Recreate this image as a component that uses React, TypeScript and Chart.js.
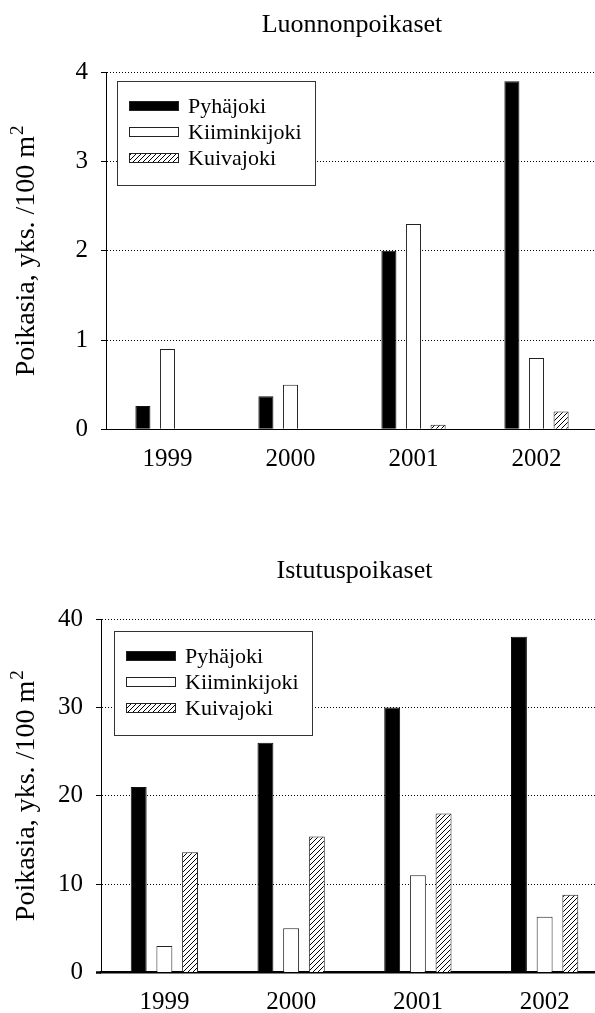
import React, { useEffect, useRef } from 'react';
import { Chart, registerables } from 'chart.js';

Chart.register(...registerables);

const years = ['1999', '2000', '2001', '2002'];
const seriesNames = ['Pyhäjoki', 'Kiiminkijoki', 'Kuivajoki'];

const wildPyha = [0.26, 0.37, 2.0, 3.9];
const wildKiim = [0.9, 0.5, 2.3, 0.8];
const wildKuiva = [0, 0, 0.05, 0.2];

const stockPyha = [21, 26, 30, 38];
const stockKiim = [3, 5, 11, 6.3];
const stockKuiva = [13.6, 15.4, 18, 8.8];

const topTitle = 'Luonnonpoikaset';
const bottomTitle = 'Istutuspoikaset';
const yTitleMain = 'Poikasia, yks. /100 m';
const yTitleSup = '2';

const FONT = '"Liberation Serif", "Times New Roman", serif';

function makeHatch(): CanvasPattern {
  const s = 5;
  const c = document.createElement('canvas');
  c.width = s;
  c.height = s;
  const g = c.getContext('2d')!;
  g.fillStyle = '#fff';
  g.fillRect(0, 0, s, s);
  g.strokeStyle = '#000';
  g.lineWidth = 1;
  g.beginPath();
  g.moveTo(0, s);
  g.lineTo(s, 0);
  g.moveTo(-1, 1);
  g.lineTo(1, -1);
  g.moveTo(s - 1, s + 1);
  g.lineTo(s + 1, s - 1);
  g.stroke();
  return g.createPattern(c, 'repeat')!;
}

const boxLegend = {
  id: 'boxLegend',
  afterDraw(chart: any, _args: any, opts: any) {
    const { ctx, chartArea } = chart;
    const x0 = Math.round(chartArea.left + opts.dx);
    const y0 = Math.round(chartArea.top + opts.dy);
    ctx.save();
    ctx.fillStyle = '#fff';
    ctx.fillRect(x0, y0, opts.w, opts.h);
    ctx.strokeStyle = '#333';
    ctx.lineWidth = 1;
    ctx.strokeRect(x0 + 0.5, y0 + 0.5, opts.w, opts.h);
    chart.data.datasets.forEach((ds: any, i: number) => {
      const cy = Math.round(y0 + opts.firstRow + i * opts.rowGap);
      const sx = x0 + 12;
      ctx.fillStyle = ds.backgroundColor;
      ctx.fillRect(sx, cy - 5, 50, 10);
      ctx.strokeStyle = '#222';
      ctx.strokeRect(sx + 0.5, cy - 5 + 0.5, 49, 9);
      ctx.fillStyle = '#000';
      ctx.font = `22px ${FONT}`;
      ctx.textBaseline = 'middle';
      ctx.textAlign = 'left';
      ctx.fillText(ds.label, sx + 59, cy + 1);
    });
    ctx.restore();
  },
};

const yTitlePlugin = {
  id: 'yTitleSup',
  afterDraw(chart: any, _args: any, opts: any) {
    const { ctx, chartArea } = chart;
    const cy = (chartArea.top + chartArea.bottom) / 2;
    ctx.save();
    ctx.fillStyle = '#000';
    ctx.textBaseline = 'alphabetic';
    ctx.textAlign = 'left';
    ctx.font = `${opts.size}px ${FONT}`;
    const wMain = ctx.measureText(yTitleMain).width;
    ctx.font = `${opts.supSize}px ${FONT}`;
    const wSup = ctx.measureText(yTitleSup).width;
    const total = wMain + wSup + 1;
    ctx.translate(opts.baseX, cy);
    ctx.rotate(-Math.PI / 2);
    ctx.font = `${opts.size}px ${FONT}`;
    ctx.fillText(yTitleMain, -total / 2, 0);
    ctx.font = `${opts.supSize}px ${FONT}`;
    ctx.fillText(yTitleSup, -total / 2 + wMain + 1, -opts.raise);
    ctx.restore();
  },
};

interface Spec {
  title: string;
  data: number[][];
  max: number;
  step: number;
  width: number;
  height: number;
  axisX: number;
  areaTop: number;
  areaBottom: number;
  titleTop: number;
  catPct: number;
  barPct: number;
  baseWidth: number;
  legendDx: number;
  legendDy: number;
}

function ChartBox({ spec, top }: { spec: Spec; top: number }) {
  const ref = useRef<HTMLCanvasElement | null>(null);
  useEffect(() => {
    const canvas = ref.current!;
    const hatch = makeHatch();
    const fills = ['#000', '#fff', hatch];
    const titleLine = 26 * 1.2;
    const titlePadTop = spec.titleTop;
    const titlePadBottom = spec.areaTop - titlePadTop - titleLine;
    const xHeight = 40;
    const chart = new Chart(canvas, {
      type: 'bar',
      data: {
        labels: years,
        datasets: spec.data.map((vals, i) => ({
          label: seriesNames[i],
          data: vals,
          backgroundColor: fills[i] as any,
          borderColor: i === 0 ? '#111' : '#222',
          borderWidth: 1,
          categoryPercentage: spec.catPct,
          barPercentage: spec.barPct,
        })),
      },
      options: {
        responsive: false,
        animation: false,
        layout: {
          padding: { left: 0, right: 0, top: 0, bottom: spec.height - spec.areaBottom - xHeight },
        },
        plugins: {
          legend: { display: false },
          tooltip: { enabled: false },
          title: {
            display: true,
            text: spec.title,
            fullSize: false,
            color: '#000',
            font: { family: FONT, size: 26, weight: 'normal' },
            padding: { top: titlePadTop, bottom: titlePadBottom },
          },
          boxLegend: {
            dx: spec.legendDx,
            dy: spec.legendDy,
            w: 198,
            h: 104,
            firstRow: 25,
            rowGap: 26,
          },
          yTitleSup: {
            size: 28,
            supSize: 19,
            raise: 11,
            baseX: 34,
          },
        } as any,
        scales: {
          x: {
            offset: true,
            grid: { display: false, drawTicks: false },
            border: { display: true, color: '#000', width: spec.baseWidth },
            ticks: {
              color: '#000',
              padding: 15,
              font: { family: FONT, size: 25 },
            },
            afterFit: (s: any) => {
              s.height = xHeight;
            },
          },
          y: {
            min: 0,
            max: spec.max,
            grid: {
              color: '#000',
              lineWidth: 1,
              tickLength: 5,
              tickColor: '#000',
              tickWidth: (c: any) => (c.tick && c.tick.value === 0 ? spec.baseWidth : 1),
              tickBorderDash: [],
            },
            border: { display: true, color: '#000', width: 1, dash: [1, 2] },
            ticks: {
              stepSize: spec.step,
              color: '#000',
              padding: 13,
              font: { family: FONT, size: 25 },
            },
            title: { display: false },
            afterFit: (s: any) => {
              s.width = spec.axisX;
            },
          },
        },
      },
      plugins: [boxLegend, yTitlePlugin],
    });
    return () => chart.destroy();
  }, [spec]);
  return (
    <canvas
      ref={ref}
      width={spec.width}
      height={spec.height}
      style={{ position: 'absolute', left: 0, top, width: spec.width, height: spec.height }}
    />
  );
}

const topSpec: Spec = {
  title: topTitle,
  data: [wildPyha, wildKiim, wildKuiva],
  max: 4,
  step: 1,
  width: 598,
  height: 500,
  axisX: 106,
  areaTop: 72.3,
  areaBottom: 429.3,
  titleTop: 10,
  catPct: 0.6,
  barPct: 0.612,
  baseWidth: 1,
  legendDx: 11,
  legendDy: 9,
};

const bottomSpec: Spec = {
  title: bottomTitle,
  data: [stockPyha, stockKiim, stockKuiva],
  max: 40,
  step: 10,
  width: 608,
  height: 513,
  axisX: 101,
  areaTop: 119,
  areaBottom: 472.5,
  titleTop: 56,
  catPct: 0.608,
  barPct: 0.62,
  baseWidth: 2.5,
  legendDx: 13,
  legendDy: 12,
};

export default function App() {
  return (
    <div
      style={{
        position: 'absolute',
        left: 0,
        top: 0,
        width: 595,
        height: 1013,
        overflow: 'hidden',
        background: '#fff',
      }}
    >
      <ChartBox spec={topSpec} top={0} />
      <ChartBox spec={bottomSpec} top={500} />
    </div>
  );
}
